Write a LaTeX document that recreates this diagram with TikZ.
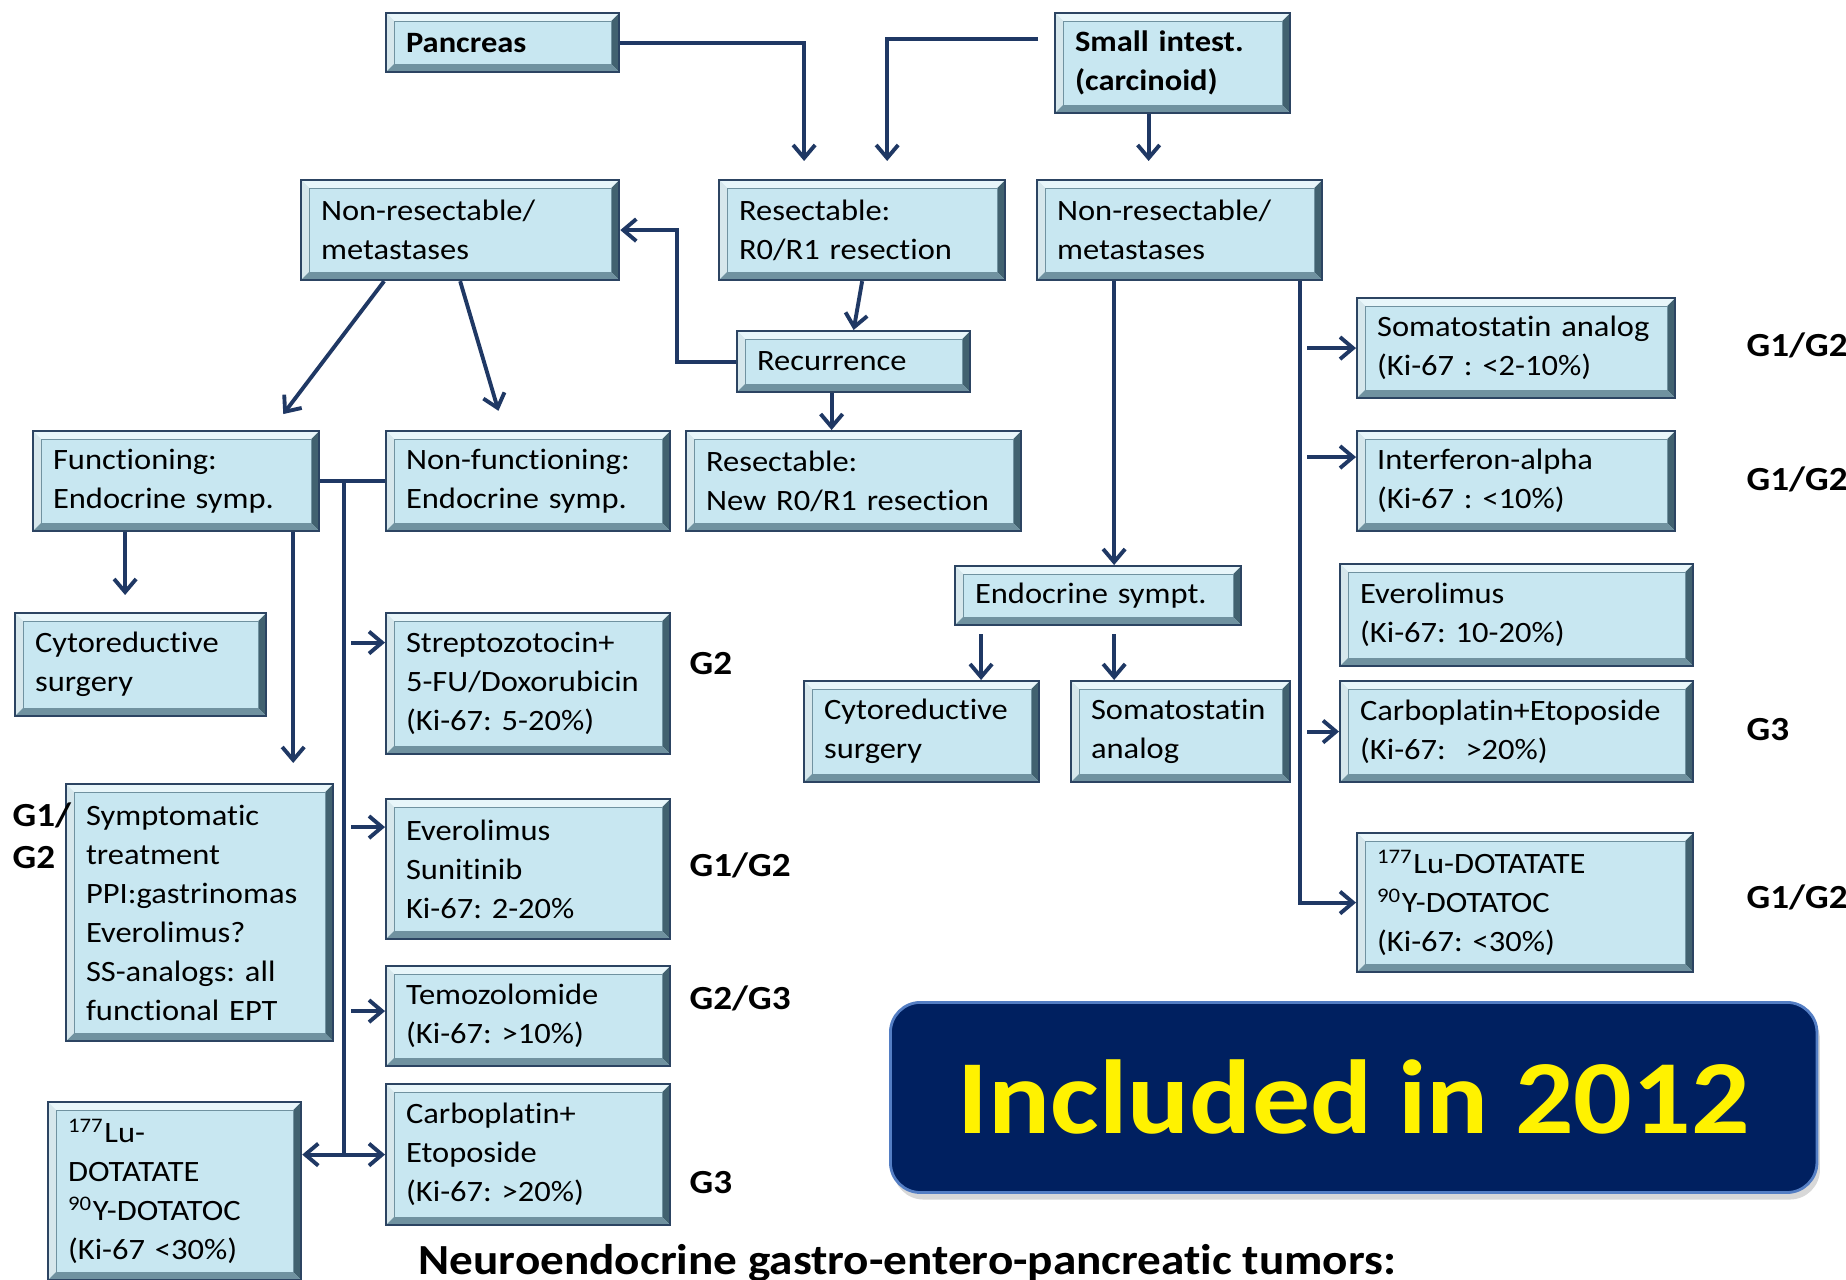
\documentclass[tikz,border=0pt]{standalone}
\usepackage{fontspec}
\setmainfont{Carlito}[FakeStretch=1.1, Ligatures=NoCommon]
\usetikzlibrary{arrows.meta,calc,shadows}
\definecolor{boxface}{RGB}{200,231,241}
\definecolor{boxline}{RGB}{44,68,98}
\definecolor{bevlight}{RGB}{232,246,250}
\definecolor{bevmid}{RGB}{112,146,160}
\definecolor{bevdark}{RGB}{66,98,112}
\definecolor{conncol}{RGB}{31,56,100}
\definecolor{incfill}{RGB}{0,32,96}
\definecolor{incline}{RGB}{84,126,196}
\hyphenpenalty=10000
\exhyphenpenalty=10000
\tikzset
    {
        bevel/.style = {path picture={
            \path (path picture bounding box.north west) coordinate (p1)
                  (path picture bounding box.north east) coordinate (p2)
                  (path picture bounding box.south east) coordinate (p3)
                  (path picture bounding box.south west) coordinate (p4)
                  ([xshift=0.08cm,yshift=-0.08cm]p1) coordinate (q1)
                  ([xshift=-0.08cm,yshift=-0.08cm]p2) coordinate (q2)
                  ([xshift=-0.08cm,yshift=0.08cm]p3) coordinate (q3)
                  ([xshift=0.08cm,yshift=0.08cm]p4) coordinate (q4);
            \fill[bevlight] (p1) -- (p2) -- (q2) -- (q1) -- cycle;
            \fill[bevlight!85!bevmid] (p1) -- (p4) -- (q4) -- (q1) -- cycle;
            \fill[bevdark] (p2) -- (p3) -- (q3) -- (q2) -- cycle;
            \fill[bevmid] (p4) -- (p3) -- (q3) -- (q4) -- cycle;
            \draw[bevmid, line width=0.3pt] (q1) -- (q2) -- (q3) -- (q4) -- cycle;
        }},
        tbox/.style = {draw=boxline, line width=0.6pt, fill=boxface, align=left,
                       anchor=north west, inner xsep=0.2cm, inner ysep=0pt,
                       font=\fontsize{8.4}{11.1}\selectfont, bevel},
        tboxb/.style = {tbox, font=\bfseries\fontsize{8.4}{11.1}\selectfont},
        incbox/.style = {rounded corners=0.3cm, fill=incfill, draw=incline, line width=0.8pt,
                         text=yellow, inner sep=0pt, anchor=north west,
                         font=\bfseries\fontsize{29.9}{30}\selectfont,
                         drop shadow={shadow xshift=0.03cm, shadow yshift=-0.07cm, opacity=0.3}},
        grade/.style = {anchor=west, inner sep=0pt, align=left,
                        font=\bfseries\fontsize{9.6}{11.9}\selectfont},
        conn/.style = {draw=conncol, line width=1.1pt}
    }
\begin{document}
\begin{tikzpicture}[x=0.01cm, y=-0.01cm, >={Straight Barb[length=0.13cm,width=0.22cm]}]
    \useasboundingbox[fill=white] (0,0) rectangle (1846,1279);
    % origin
    \node [tboxb, text width=1.93cm, minimum height=0.59cm] (pan) at (385,12) {Pancreas};
    \node [tboxb, text width=1.95cm, minimum height=1.00cm] (sml) at (1054,12) {Small intest.\\(carcinoid)};
    % second row
    \node [tbox, text width=2.78cm, minimum height=1.00cm] (nrp) at (300,179) {Non-resectable/\\metastases};
    \node [tbox, text width=2.46cm, minimum height=1.00cm] (res) at (718,179) {Resectable:\\R0/R1~resection};
    \node [tbox, text width=2.45cm, minimum height=1.00cm] (nrs) at (1036,179) {Non-resectable/\\metastases};
    \node [tbox, text width=1.93cm, minimum height=0.61cm] (rec) at (736,330) {Recurrence};
    \node [tbox, text width=2.95cm, minimum height=1.00cm] (rnew) at (685,430) {Resectable:\\New~R0/R1~resection};
    % pancreas, non-resectable
    \node [tbox, text width=2.46cm, minimum height=1.00cm] (fun) at (32,430) {Functioning:\\Endocrine~symp.};
    \node [tbox, text width=2.44cm, minimum height=1.00cm] (nfun) at (385,430) {Non-functioning:\\Endocrine~symp.};
    \node [tbox, text width=2.11cm, minimum height=1.03cm] (cyl) at (14,612) {Cytoreductive\\surgery};
    \node [tbox, text width=2.27cm, minimum height=2.57cm] (sym) at (65,783) {Symptomatic\\treatment\\PPI:gastrinomas\\Everolimus?\\SS-analogs:~all\\functional~EPT};
    \node [tbox, text width=2.13cm, minimum height=1.78cm] (lul) at (47,1101) {\textsuperscript{177}Lu-\\DOTATATE\\\textsuperscript{90}Y-DOTATOC\\(Ki-67~<30\%)};
    \node [tbox, text width=2.44cm, minimum height=1.41cm] (stz) at (385,612) {Streptozotocin+\\5-FU/Doxorubicin\\(Ki-67:~5-20\%)};
    \node [tbox, text width=2.44cm, minimum height=1.40cm] (evs) at (385,798) {Everolimus\\Sunitinib\\Ki-67:~2-20\%};
    \node [tbox, text width=2.44cm, minimum height=1.00cm] (tem) at (385,965) {Temozolomide\\(Ki-67:~>10\%)};
    \node [tbox, text width=2.44cm, minimum height=1.41cm] (cbl) at (385,1083) {Carboplatin+\\Etoposide\\(Ki-67:~>20\%)};
    % small intestine, non-resectable
    \node [tbox, text width=2.46cm, minimum height=0.59cm] (end) at (954,565) {Endocrine~sympt.};
    \node [tbox, text width=1.95cm, minimum height=1.01cm] (cyr) at (803,680) {Cytoreductive\\surgery};
    \node [tbox, text width=1.79cm, minimum height=1.01cm] (ssm) at (1070,680) {Somatostatin\\analog};
    \node [tbox, text width=2.78cm, minimum height=1.00cm] (ssa) at (1356,297) {Somatostatin~analog\\(Ki-67~:~<2-10\%)};
    \node [tbox, text width=2.78cm, minimum height=1.00cm] (ifn) at (1356,430) {Interferon-alpha\\(Ki-67~:~<10\%)};
    \node [tbox, text width=3.13cm, minimum height=1.02cm] (evr) at (1339,563) {Everolimus\\(Ki-67:~10-20\%)};
    \node [tbox, text width=3.13cm, minimum height=1.01cm] (cbr) at (1339,680) {Carboplatin+Etoposide\\(Ki-67:~~>20\%)};
    \node [tbox, text width=2.96cm, minimum height=1.39cm] (lur) at (1356,832) {\textsuperscript{177}Lu-DOTATATE\\\textsuperscript{90}Y-DOTATOC\\(Ki-67:~<30\%)};
    \node [incbox, minimum width=9.26cm, minimum height=1.90cm] (inc) at (889,1001) {Included in 2012};
    % grades
    \node [grade] (g1) at (1746,345) {G1/G2};
    \node [grade] (g2) at (1746,479) {G1/G2};
    \node [grade] (g3) at (1746,730) {G3};
    \node [grade] (g4) at (1746,897) {G1/G2};
    \node [grade] (g5) at (689,664) {G2};
    \node [grade] (g6) at (689,865) {G1/G2};
    \node [grade] (g7) at (689,998) {G2/G3};
    \node [grade] (g8) at (689,1183) {G3};
    \node [grade] (g9) at (12,836) {G1/\\G2};
    \node [anchor=base west, inner sep=0pt, font=\bfseries\fontsize{12.2}{14}\selectfont] (cap) at (418,1274) {Neuroendocrine gastro-entero-pancreatic tumors:};
    % connectors
    \draw[conn, ->, shorten >=0.18cm] (pan.east) -| ([xshift=-0.58cm]res.north);
    \draw[conn, ->, shorten >=0.18cm] ([xshift=-0.16cm, yshift=0.24cm]sml.west) -| ([xshift=0.25cm]res.north);
    \draw[conn, ->, shorten >=0.18cm] ([xshift=-0.24cm]sml.south) coordinate (s1) -- (s1 |- nrs.north);
    \draw[conn, ->] (res.south) -- (rec.north);
    \draw[conn, ->] (rec.west) -- ++(-59,0) |- (nrp.east);
    \draw[conn, ->] ([xshift=-0.22cm]rec.south) coordinate (r1) -- (r1 |- rnew.north);
    \draw[conn, ->, shorten >=0.2cm] ([xshift=-0.76cm]nrp.south) -- ([xshift=0.95cm]fun.north);
    \draw[conn, ->, shorten >=0.2cm] (nrp.south) -- ([xshift=-0.24cm]nfun.north);
    \draw[conn, ->, shorten >=0.17cm] ([xshift=-0.51cm]fun.south) coordinate (f1) -- (f1 |- cyl.north);
    \draw[conn, ->, shorten >=0.2cm] ([xshift=1.17cm]fun.south) coordinate (f2) -- (f2 |- sym.north);
    \draw[conn] (fun.east) -- (nfun.west);
    \coordinate (trk) at ($(fun.east)!0.37!(nfun.west)$);
    \draw[conn] (trk) -- (trk |- cbl.west);
    \draw[conn, <->] (cbl.west) -- (cbl.west -| lul.east);
    \foreach \n/\dy in {stz/0.41, evs/0.42, tem/0.05}
        \draw[conn, <-] ([yshift=\dy cm]\n.west) -- ++(-34,0);
    \draw[conn, ->] ([xshift=-0.655cm]nrs.south) coordinate (n1) -- (n1 |- end.north);
    \draw[conn, ->, shorten <=0.08cm] ([xshift=-1.17cm]end.south) coordinate (e1) -- (e1 |- cyr.north);
    \draw[conn, ->, shorten <=0.08cm] ([xshift=0.16cm]end.south) coordinate (e2) -- (e2 |- ssm.north);
    \draw[conn, ->] ([xshift=1.205cm]nrs.south) coordinate (n2) |- (lur.west);
    \draw[conn, <-] (ssa.west) -- ++(-49,0);
    \draw[conn, <-] ([yshift=0.24cm]ifn.west) -- ++(-49,0);
    \draw[conn, <-] (cbr.west) -- ++(-32,0);
\end{tikzpicture}
\end{document}
